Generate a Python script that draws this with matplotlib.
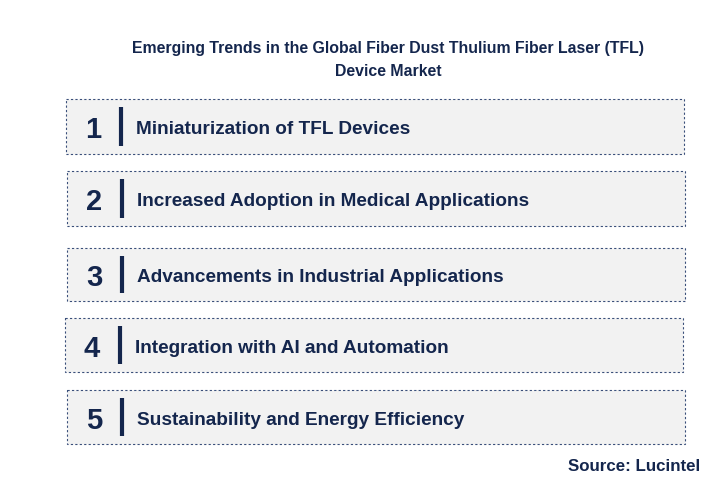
import matplotlib
matplotlib.use("Agg")
import matplotlib.pyplot as plt
from matplotlib.patches import Rectangle

title_lines = ["Emerging Trends in the Global Fiber Dust Thulium Fiber Laser (TFL)", "Device Market"]
numbers = ["1", "2", "3", "4", "5"]
trends = ["Miniaturization of TFL Devices",
          "Increased Adoption in Medical Applications",
          "Advancements in Industrial Applications",
          "Integration with AI and Automation",
          "Sustainability and Energy Efficiency"]
source = "Source: Lucintel"

box_x = [66, 67, 67, 65, 67]
box_top = [100, 172, 249, 319, 391]
box_h = [55, 55, 53, 54, 54]
box_w = 618
navy = "#14264d"

fig = plt.figure(figsize=(7.12, 4.81), dpi=100)
ax = fig.add_axes([0, 0, 1, 1])
ax.set_xlim(0, 712); ax.set_ylim(481, 0); ax.axis("off")

ax.text(388, 48, title_lines[0], ha="center", va="center", fontsize=11.4, fontweight="bold", color=navy, family="Liberation Sans")
ax.text(388, 71, title_lines[1], ha="center", va="center", fontsize=11.4, fontweight="bold", color=navy, family="Liberation Sans")

for i, (n, t) in enumerate(zip(numbers, trends)):
    x, y, h = box_x[i], box_top[i], box_h[i]
    ax.add_patch(Rectangle((x, y), box_w, h, facecolor="#f2f2f2", edgecolor="#3a4f7a", linestyle=(0, (2, 2)), linewidth=0.8))
    cy = y + h / 2
    ax.text(x + 27, cy + 3, n, ha="center", va="center", fontsize=21, fontweight="bold", color=navy, family="Liberation Sans")
    ax.plot([x + 55, x + 55], [y + 8, y + h - 8], color=navy, linewidth=3, solid_capstyle="butt")
    ax.text(x + 70, cy + 2.5, t, ha="left", va="center", fontsize=13.7, fontweight="bold", color=navy, family="Liberation Sans")

ax.text(700, 467, source, ha="right", va="center", fontsize=12.2, fontweight="bold", color=navy, family="Liberation Sans")
fig.savefig("out.png", dpi=100)
